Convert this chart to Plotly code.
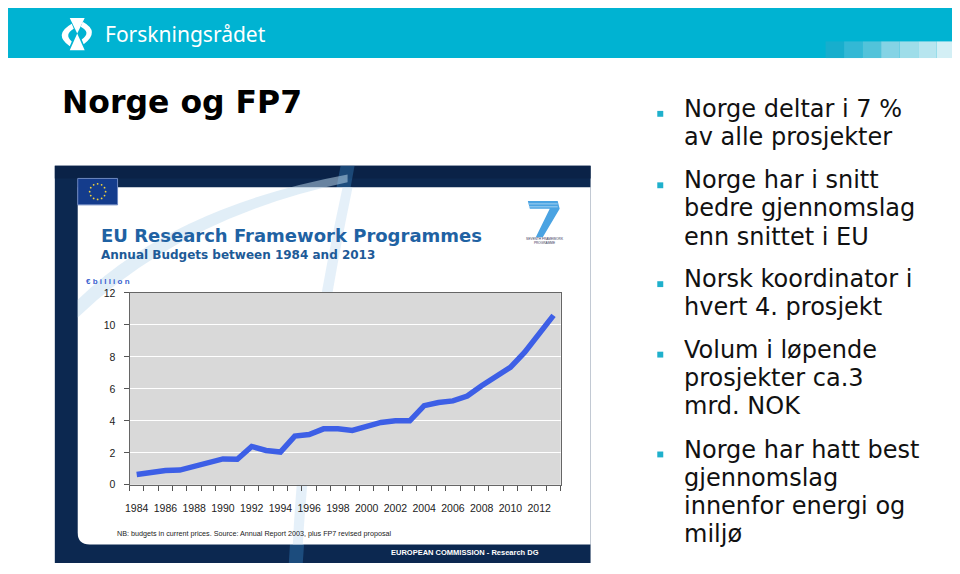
import math
import plotly.graph_objects as go

# page body has an 8px margin, so the figure is shifted back by that amount
OFF = 8
W, H = 952, 566

# -------------------------
# Chart data (EU framework programme budgets, € billion)
# -------------------------
years = list(range(1984, 2014))
budget = [0.65, 0.78, 0.9, 0.92, 1.15, 1.37, 1.62, 1.6, 2.4, 2.15,
          2.05, 3.05, 3.15, 3.5, 3.5, 3.4, 3.65, 3.9, 4.0, 4.0,
          4.95, 5.15, 5.25, 5.55, 6.2, 6.75, 7.35, 8.3, 9.45, 10.6]
x_ticks = list(range(1984, 2013, 2))
y_ticks = [0, 2, 4, 6, 8, 10, 12]

# -------------------------
# Slide text
# -------------------------
slide_title = "Norge og FP7"
bullets = [
    ["Norge deltar i 7 %", "av alle prosjekter"],
    ["Norge har i snitt", "bedre gjennomslag", "enn snittet i EU"],
    ["Norsk koordinator i", "hvert 4. prosjekt"],
    ["Volum i løpende", "prosjekter ca.3", "mrd. NOK"],
    ["Norge har hatt best", "gjennomslag", "innenfor energi og", "miljø"],
]
bullet_rows = [108, 181, 282, 354, 456]
LINE_STEP = 28.7


def fx(x):
    return (x - OFF) / W


def fy(y):
    return 1 - (y - OFF) / H


def rect(x0, y0, x1, y1, fill, line_color=None, lw=0, layer="below", opacity=1):
    return dict(type="rect", xref="paper", yref="paper", layer=layer,
                x0=fx(x0), x1=fx(x1), y0=fy(y1), y1=fy(y0),
                fillcolor=fill, opacity=opacity,
                line=dict(color=line_color or fill, width=lw))


def path(cmds, fill=None, line_color=None, lw=0, layer="below", opacity=1):
    parts = []
    for c in cmds:
        if c == "Z":
            parts.append("Z")
            continue
        op, *pts = c
        parts.append(op + " " + " ".join(f"{fx(x):.5f},{fy(y):.5f}" for x, y in pts))
    return dict(type="path", xref="paper", yref="paper", layer=layer,
                path=" ".join(parts), fillcolor=fill or "rgba(0,0,0,0)",
                opacity=opacity, line=dict(color=line_color or "rgba(0,0,0,0)", width=lw))


def text(x, y, s, size, color="#111", family="DejaVu Sans", xanchor="left", bold=False):
    if bold:
        s = f"<b>{s}</b>"
    return dict(xref="paper", yref="paper", x=fx(x), y=fy(y), text=s,
                showarrow=False, xanchor=xanchor, yanchor="middle",
                font=dict(size=size, color=color, family=family))


shapes = []
annotations = []

# header band + logo
shapes.append(rect(4, 1, 955, 53, "#00b3d2"))
fade = ["#17aecd", "#33b8d5", "#52c3da", "#84d3e5", "#9edde9", "#b7e5ef", "#d3eff5"]
for i, c in enumerate(fade):
    shapes.append(rect(825 + i * 18.6, 36, 825 + (i + 1) * 18.6, 53, c))
shapes.append(path([("M", (66, 12)), ("L", (81, 12)), ("L", (73.5, 28)), "Z"], fill="white"))
shapes.append(path([("M", (66, 45)), ("L", (81, 45)), ("L", (73.5, 28)), "Z"], fill="white"))
shapes.append(path([("M", (68, 18)), ("Q", (49, 29), (66, 41)), ("L", (68, 36)),
                    ("Q", (60, 29), (70, 23)), "Z"], fill="white"))
shapes.append(path([("M", (79, 16)), ("Q", (97, 26), (80, 39)), ("L", (78, 34)),
                    ("Q", (88, 27), (77, 21)), "Z"], fill="white"))
annotations.append(text(99, 28, "Forskningsrådet", 21, "white", "Noto Sans"))

# slide title
annotations.append(text(56, 98, slide_title, 31.5, "#000", bold=True))

# bullets
for rows, y0 in zip(bullets, bullet_rows):
    shapes.append(rect(656, y0 - 1, 662, y0 + 5, "#1fb0cc"))
    for k, line in enumerate(rows):
        annotations.append(text(681, y0 - 3 + k * LINE_STEP, line, 24, "#111"))

# embedded chart picture: dark frame, white panel
shapes.append(rect(51, 163, 589, 569, "#0c2850"))
shapes.append(rect(51, 163, 589, 176, "#0a2247"))
shapes.append(path([("M", (300, 569)), ("Q", (312, 380), (352, 163)), ("L", (338, 163)),
                    ("Q", (296, 380), (286, 569)), "Z"], fill="#3d8fd0", opacity=0.35))
shapes.append(path([("M", (74, 185)), ("L", (589, 185)), ("L", (589, 550)), ("L", (86, 550)),
                    ("Q", (74, 550), (74, 538)), "Z"], fill="white"))
shapes.append(path([("M", (74, 300)), ("Q", (170, 205), (345, 172)), ("L", (345, 180)),
                    ("Q", (180, 215), (74, 318)), "Z"], fill="#c4ddf0", opacity=0.5))
shapes.append(path([("M", (300, 550)), ("Q", (310, 380), (350, 185)), ("L", (340, 185)),
                    ("Q", (298, 380), (290, 550)), "Z"], fill="#cfe4f4", opacity=0.55))

# EU flag
shapes.append(rect(74, 176, 114, 203, "#143c8c", "#6d87c0", 1))
for i in range(12):
    a = 2 * math.pi * i / 12
    cx, cy = 94 + 8 * math.cos(a), 189.5 + 8 * math.sin(a)
    shapes.append(dict(type="circle", xref="paper", yref="paper", layer="below",
                       x0=fx(cx - 0.9), x1=fx(cx + 0.9), y0=fy(cy + 0.9), y1=fy(cy - 0.9),
                       fillcolor="#f2d33a", line=dict(width=0)))

# FP7 logo
shapes.append(path([("M", (526, 199)), ("L", (556, 199)), ("L", (558, 207)), ("L", (541, 236)),
                    ("L", (534, 236)), ("L", (548, 207)), ("L", (528, 207)), "Z"], fill="#4aa3e2"))
for dy in (202, 205):
    shapes.append(path([("M", (527, dy)), ("L", (556, dy))], line_color="#b9dcf5", lw=0.8))
annotations.append(text(543, 240, "SEVENTH FRAMEWORK<br>PROGRAMME", 3.2, "#335",
                        "Liberation Sans", xanchor="center"))

# chart titles
annotations.append(text(95, 234, "EU Research Framework Programmes", 18, "#1f62a3", bold=True))
annotations.append(text(95, 254, "Annual Budgets between 1984 and 2013", 12, "#1d5a97", bold=True))
annotations.append(text(80, 281, "€ b i l l i o n", 8, "#3a5fcf", "Liberation Sans", bold=True))
annotations.append(text(111, 539, "NB: budgets in current prices. Source: Annual Report 2003, plus FP7 revised proposal",
                        7.2, "#222", "Liberation Sans"))
annotations.append(text(539, 558, "EUROPEAN COMMISSION - Research DG", 7.5, "white",
                        "Liberation Sans", xanchor="right", bold=True))

# plot area background (drawn as a shape so it sits above the panel)
PX0, PX1, PY0, PY1 = 126, 559, 293, 489
shapes.append(rect(PX0, PY0, PX1, PY1, "#d9d9d9"))

fig = go.Figure()
fig.add_trace(go.Scatter(
    x=years, y=budget, mode="lines",
    line=dict(color="#3d5fe6", width=5.5),
    hoverinfo="x+y", showlegend=False,
))

fig.update_layout(
    width=W, height=H, autosize=False,
    margin=dict(l=0, r=0, t=0, b=0),
    paper_bgcolor="white", plot_bgcolor="rgba(0,0,0,0)",
    shapes=shapes, annotations=annotations,
    xaxis=dict(
        domain=[fx(PX0), fx(PX1)], range=[1983.5, 2013.5],
        tickvals=x_ticks, ticks="", showgrid=False, zeroline=False,
        showline=True, linecolor="#666", linewidth=1, mirror=True,
        tickfont=dict(family="Liberation Sans", size=10.5, color="#222"),
        ticklabelstandoff=14,
        minor=dict(ticks="outside", tick0=1983.5, dtick=1, ticklen=5,
                   tickcolor="#555", tickwidth=1, showgrid=False),
    ),
    yaxis=dict(
        domain=[fy(PY1), fy(PY0)], range=[0, 12],
        tickvals=y_ticks, ticks="outside", ticklen=5, tickcolor="#555",
        showgrid=True, gridcolor="white", gridwidth=1.3, zeroline=False,
        showline=True, linecolor="#666", linewidth=1, mirror=True,
        tickfont=dict(family="Liberation Sans", size=10.5, color="#222"),
        ticklabelstandoff=6,
    ),
)

fig.write_html("out.html")
